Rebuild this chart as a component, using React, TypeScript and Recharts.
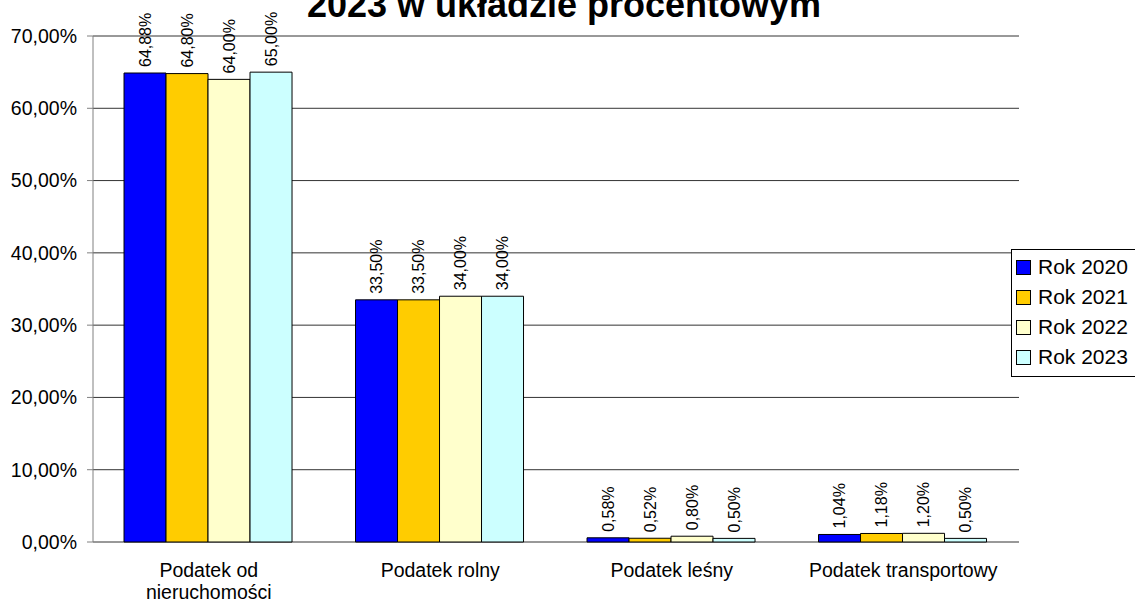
import React from 'react';
import { BarChart, Bar, XAxis, YAxis, CartesianGrid, LabelList } from 'recharts';

// Values, in percent.
const categories = ['Podatek od nieruchomości', 'Podatek rolny', 'Podatek leśny', 'Podatek transportowy'];
const rok2020 = [64.88, 33.5, 0.58, 1.04];
const rok2021 = [64.8, 33.5, 0.52, 1.18];
const rok2022 = [64.0, 34.0, 0.8, 1.2];
const rok2023 = [65.0, 34.0, 0.5, 0.5];
const yTicks = [0, 10, 20, 30, 40, 50, 60, 70];
const edgeTicks = [0, 1, 2, 3, 4];
const seriesNames = ['Rok 2020', 'Rok 2021', 'Rok 2022', 'Rok 2023'];
const seriesKeys = ['r2020', 'r2021', 'r2022', 'r2023'];
const seriesColors = ['#0000FF', '#FFCC00', '#FFFFCC', '#CCFFFF'];
const title = '2023 w układzie procentowym';

const FONT = '"Liberation Sans", Arial, sans-serif';

const data = categories.map((name, i) => ({
  name,
  r2020: rok2020[i],
  r2021: rok2021[i],
  r2022: rok2022[i],
  r2023: rok2023[i],
}));

const fmt = (v: number) => v.toFixed(2).replace('.', ',') + '%';

// wrap category names the way Excel does when they don't fit the slot
let ctx: CanvasRenderingContext2D | null = null;
function wrap(text: string, maxW: number, font: string): string[] {
  if (!ctx) ctx = document.createElement('canvas').getContext('2d');
  if (!ctx) return [text];
  ctx.font = font;
  const words = text.split(' ');
  const lines: string[] = [];
  let cur = '';
  for (const w of words) {
    const next = cur ? cur + ' ' + w : w;
    if (cur && ctx.measureText(next).width > maxW) {
      lines.push(cur);
      cur = w;
    } else {
      cur = next;
    }
  }
  if (cur) lines.push(cur);
  return lines;
}

const CategoryTick = (props: any) => {
  const { x, y, payload } = props;
  const lines = wrap(String(payload.value), 210, `19.5px ${FONT}`);
  return (
    <g>
      {lines.map((l, i) => (
        <text
          key={i}
          x={x}
          y={y + 35 + i * 22}
          textAnchor="middle"
          fontSize={19.5}
          fontFamily={FONT}
          fill="#000"
        >
          {l}
        </text>
      ))}
    </g>
  );
};

const renderLabel = (p: any) => {
  const vb = p.viewBox ?? p;
  const x = Number(p.x ?? vb.x);
  const y = Number(p.y ?? vb.y);
  const w = Number(p.width ?? vb.width);
  const cx = x + w / 2;
  const ty = y - 6;
  return (
    <text
      x={cx}
      y={ty}
      transform={`rotate(-90 ${cx} ${ty})`}
      textAnchor="start"
      dominantBaseline="central"
      fontSize={16}
      fontFamily={FONT}
      fill="#000"
    >
      {fmt(Number(p.value))}
    </text>
  );
};

export default function App() {
  return (
    <div style={{ position: 'absolute', left: 0, top: 0, width: 1135, height: 601, background: '#fff', fontFamily: FONT }}>
      <BarChart
        width={1135}
        height={601}
        data={data}
        margin={{ top: 36, right: 116, bottom: 0, left: 0 }}
        barCategoryGap="13.4%"
        barGap={0}
      >
        <CartesianGrid horizontal vertical={false} stroke="#333" />
        <XAxis
          xAxisId="edges"
          type="number"
          domain={[0, categories.length]}
          ticks={edgeTicks}
          allowDataOverflow
          tick={false}
          tickSize={6}
          height={0}
          axisLine={{ stroke: '#808080' }}
          tickLine={{ stroke: '#808080' }}
        />
        <XAxis
          xAxisId="cat"
          dataKey="name"
          height={59}
          axisLine={false}
          tickLine={false}
          tickSize={0}
          tickMargin={0}
          interval={0}
          tick={<CategoryTick />}
        />
        <YAxis
          width={93}
          domain={[0, 70]}
          ticks={yTicks}
          tickFormatter={fmt}
          tickSize={6}
          tickMargin={10}
          axisLine={{ stroke: '#808080' }}
          tickLine={{ stroke: '#808080' }}
          tick={{ fontSize: 19.5, fontFamily: FONT, fill: '#000' }}
        />
        {seriesKeys.map((k, i) => (
          <Bar
            key={k}
            xAxisId="cat"
            dataKey={k}
            name={seriesNames[i]}
            fill={seriesColors[i]}
            stroke="#000"
            strokeWidth={1}
            isAnimationActive={false}
          >
            <LabelList dataKey={k} content={renderLabel} />
          </Bar>
        ))}
      </BarChart>
      <svg
        width={1135}
        height={601}
        style={{ position: 'absolute', left: 0, top: 0, pointerEvents: 'none' }}
      >
        <text x={564} y={17} textAnchor="middle" fontSize={36} fontWeight="bold" fontFamily={FONT} fill="#000">
          {title}
        </text>
        <rect x={1011.5} y={249.5} width={130} height={127} fill="#fff" stroke="#000" />
        {seriesNames.map((n, i) => (
          <g key={n}>
            <rect x={1016.5} y={260.5 + i * 30} width={14} height={14} fill={seriesColors[i]} stroke="#000" />
            <text x={1038} y={274 + i * 30} fontSize={21} fontFamily={FONT} fill="#000">
              {n}
            </text>
          </g>
        ))}
      </svg>
    </div>
  );
}
